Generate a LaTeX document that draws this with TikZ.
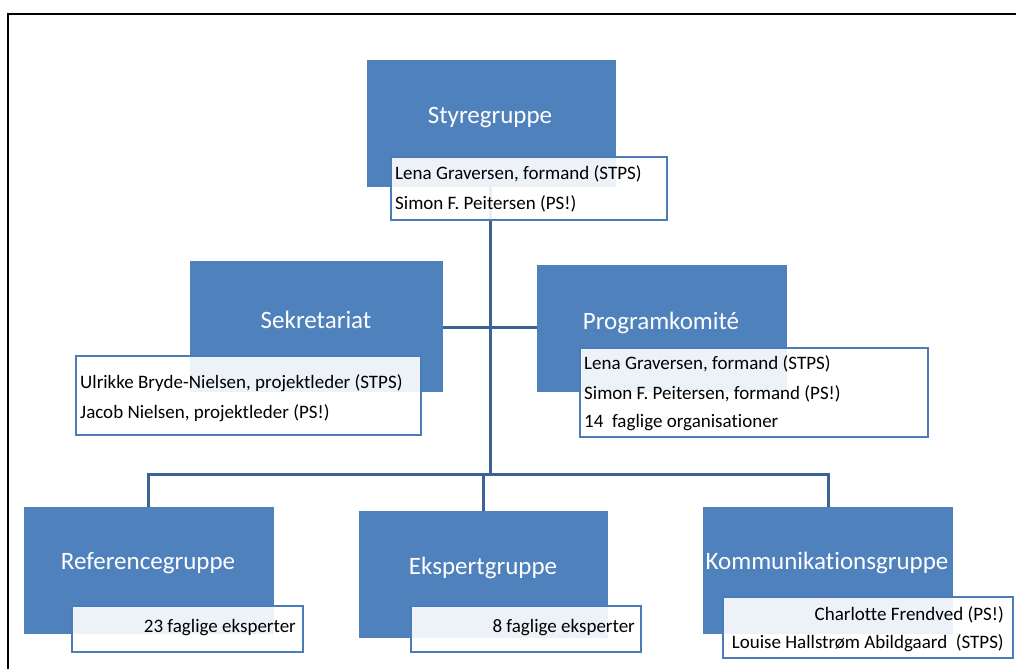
\documentclass[tikz,border=0pt]{standalone}
\usepackage{fontspec}
\setmainfont[Ligatures={NoCommon}]{Carlito}
\definecolor{boxblue}{RGB}{79,129,189}
\definecolor{edgeblue}{RGB}{74,124,186}
\definecolor{linkblue}{RGB}{58,98,148}
\begin{document}
\begin{tikzpicture}[x=1pt,y=-1pt,
  bbox/.style={fill=boxblue,draw=none,inner sep=0pt,outer sep=0pt,anchor=north west},
  wbox/.style={fill=white,fill opacity=0.9,draw=edgeblue,line width=2pt,inner sep=0pt,outer sep=0pt,anchor=north west},
  title/.style={text=white,font=\fontsize{25}{30}\selectfont,inner sep=0pt},
  member/.style={text=black,font=\fontsize{19}{23}\selectfont,inner sep=0pt},
  link/.style={draw=linkblue,line width=3pt}]
\useasboundingbox (0,0) rectangle (1016,669);
\fill[white] (0,0) rectangle (1016,669);
\draw[line width=2pt,black] (8,669) -- (8,14) -- (1016,14);

% coordinates for connector junctions
\coordinate (jtop) at (490,474);
\coordinate (jl) at (148,474);
\coordinate (jr) at (828,474);
\coordinate (jm) at (483,474);

% blue boxes
\path
  node[bbox,minimum width=249pt,minimum height=127pt] (sty) at (367,60) {}
  node[bbox,minimum width=253pt,minimum height=131pt] (sek) at (190,261) {}
  node[bbox,minimum width=250pt,minimum height=127pt] (prog) at (537,265) {}
  node[bbox,minimum width=250pt,minimum height=127pt] (ref) at (24,507) {}
  node[bbox,minimum width=249pt,minimum height=127pt] (eks) at (359,511) {}
  node[bbox,minimum width=250pt,minimum height=127pt] (kom) at (703,507) {};

% connectors
\draw[link] (sty.south -| jtop) -- (jtop);
\draw[link] (sek.east |- 0,327) -- (prog.west |- 0,327);
\draw[link,line cap=rect] (jl) -- (jr);
\draw[link] (jl) -- (ref.north -| jl);
\draw[link] (jr) -- (kom.north -| jr);
\draw[link] (jm) -- (eks.north -| jm);

% titles
\node[title] (tsty) at (490,118) {Styregruppe};
\node[title] (tsek) at (316,320) {Sekretariat};
\node[title] (tprog) at (661,323) {Programkomité};
\node[title] (tref) at (148,563) {Referencegruppe};
\node[title] (teks) at (483,568) {Ekspertgruppe};
\node[title] (tkom) at (827,563) {Kommunikationsgruppe};

% member boxes
\node[wbox,minimum width=276pt,minimum height=63pt] (wsty) at (391,157) {};
\node[wbox,minimum width=345pt,minimum height=79pt] (wsek) at (76,356) {};
\node[wbox,minimum width=348pt,minimum height=89pt] (wprog) at (580,348) {};
\node[wbox,minimum width=231pt,minimum height=46pt] (wref) at (72,606) {};
\node[wbox,minimum width=230pt,minimum height=46pt] (weks) at (411,606) {};
\node[wbox,minimum width=290pt,minimum height=61pt] (wkom) at (723,597) {};

% member texts
\node[member,anchor=west] (m1) at (395,174) {Lena Graversen, formand (STPS)};
\node[member,anchor=west] (m2) at (395,204) {Simon F. Peitersen (PS!)};
\node[member,anchor=west] (m3) at (80,383) {Ulrikke Bryde-Nielsen, projektleder (STPS)};
\node[member,anchor=west] (m4) at (80,413) {Jacob Nielsen, projektleder (PS!)};
\node[member,anchor=west] (m5) at (584,364) {Lena Graversen, formand (STPS)};
\node[member,anchor=west] (m6) at (584,394) {Simon F. Peitersen, formand (PS!)};
\node[member,anchor=west] (m7) at (584,423) {14\ \ faglige organisationer};
\node[member,anchor=east] (m8) at (296,628) {23 faglige eksperter};
\node[member,anchor=east] (m9) at (635,628) {8 faglige eksperter};
\node[member,anchor=east] (m10) at (1004,615) {Charlotte Frendved (PS!)};
\node[member,anchor=east] (m11) at (1004,643) {Louise Hallstrøm Abildgaard\ \ (STPS)};
\end{tikzpicture}
\end{document}
